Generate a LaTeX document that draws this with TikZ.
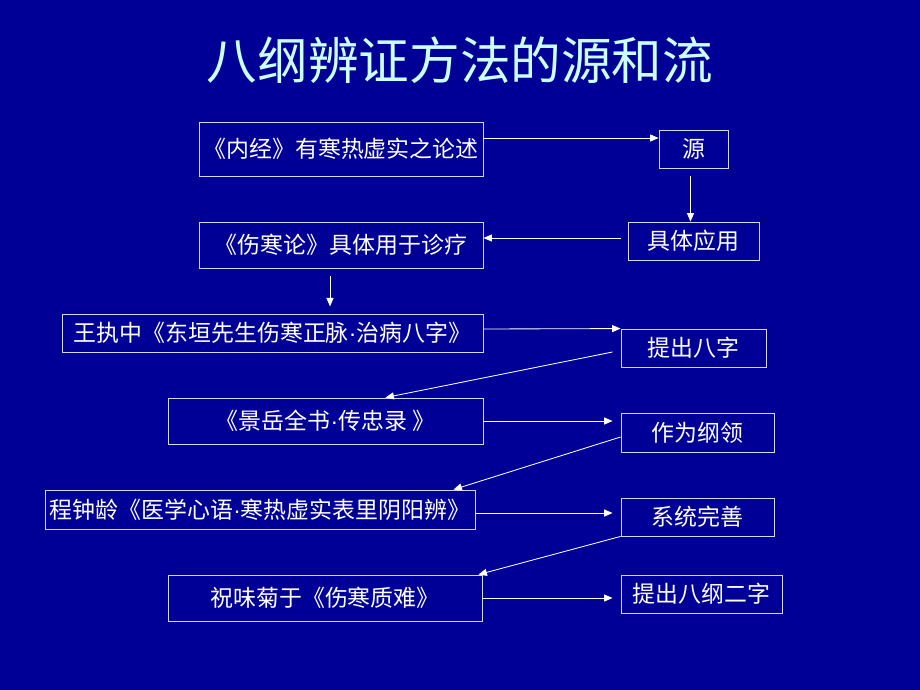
\documentclass[tikz,border=0pt]{standalone}
\usepackage{fontspec}
\newfontfamily\cjk{Noto Sans CJK SC}
\newfontfamily\latin{Liberation Sans}
\usetikzlibrary{calc,arrows.meta}
\definecolor{slidebg}{RGB}{0,0,150}
\definecolor{titlecol}{RGB}{204,255,255}
\definecolor{boxline}{RGB}{215,215,245}
\newcommand{\mdot}{{\latin ·}}

\begin{document}
\begin{tikzpicture}[
                x=0.025cm, y=-0.025cm,
                >={Triangle[length=6pt,width=5pt]},
                box/.style={draw=boxline, line width=0.6pt, inner sep=0pt,
                  text=white, font=\cjk\fontsize{16.3}{19}\selectfont},
                link/.style={white, line width=0.6pt}]
            \fill[slidebg] (0,0) rectangle (920,690);
            \node[text=titlecol, font=\cjk\fontsize{36}{42}\selectfont] (title) at (460,60) {八纲辨证方法的源和流};
            \node[box, minimum width=7.1cm, minimum height=1.35cm] (neijing) at (341,149) {《内经》有寒热虚实之论述};
            \node[box, minimum width=1.725cm, minimum height=0.95cm] (yuan) at (693.5,149) {源};
            \node[box, minimum width=7.1cm, minimum height=1.15cm] (shanghan) at (341,245) {《伤寒论》具体用于诊疗};
            \node[box, minimum width=3.275cm, minimum height=0.95cm] (juti) at (693.5,241) {具体应用};
            \node[box, minimum width=10.525cm, minimum height=0.95cm] (wang) at (272.5,333) {王执中《东垣先生伤寒正脉\mdot 治病八字》};
            \node[box, minimum width=3.625cm, minimum height=0.95cm] (tichu) at (693.5,348) {提出八字};
            \node[box, minimum width=7.875cm, minimum height=1.15cm] (jingyue) at (325.5,421) {《景岳全书\mdot 传忠录 》};
            \node[box, minimum width=3.825cm, minimum height=0.975cm] (zuowei) at (697.5,432.5) {作为纲领};
            \node[box, minimum width=10.75cm, minimum height=0.975cm] (cheng) at (260,509.5) {程钟龄《医学心语\mdot 寒热虚实表里阴阳辨》};
            \node[box, minimum width=3.825cm, minimum height=0.95cm] (xitong) at (697.5,517) {系统完善};
            \node[box, minimum width=7.85cm, minimum height=1.15cm] (zhu) at (325,598) {祝味菊于《伤寒质难》};
            \node[box, minimum width=4.025cm, minimum height=0.95cm] (tiba) at (701.5,594) {提出八纲二字};
            \path[->, link]
            ($(neijing.east)+(0,-11)$) edge ($(yuan.west)+(0,-11)$)
            ($(yuan.south)+(-3,8)$) edge ($(juti.north)+(-3,0)$)
            ($(juti.west)+(-7,-3)$) edge ($(shanghan.east)+(0,-7)$)
            ($(shanghan.south)+(-11,8)$) edge ($(shanghan.south)+(-11,38)$)
            ($(wang.east)+(0,-4)$) edge (tichu.north west)
            ($(tichu.west)+(-8,4)$) edge ($(jingyue.north)+(60,0)$)
            (jingyue.east) edge ($(jingyue.east -| zuowei.west)+(-8,0)$)
            ($(zuowei.west)+(0,4.5)$) edge ($(cheng.north east)+(-22,0)$)
            ($(cheng.east)+(0,3.5)$) edge ($(cheng.east -| xitong.west)+(-8,3.5)$)
            (xitong.south west) edge ($(zhu.north east)+(-4,0)$)
            (zhu.east) edge ($(zhu.east -| tiba.west)+(-8,0)$)
            ;
        \end{tikzpicture}
\end{document}
